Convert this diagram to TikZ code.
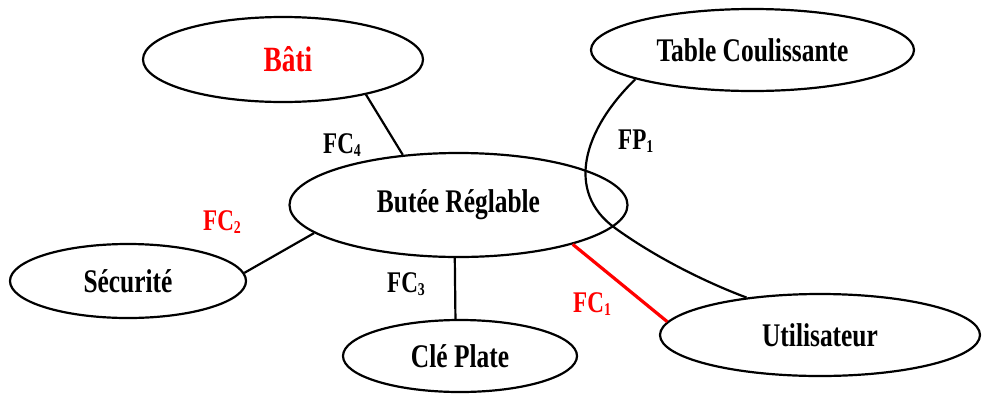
\documentclass[tikz,border=0pt]{standalone}
\usepackage{fontspec}
\setmainfont{Liberation Serif}
\usepackage{graphicx}
\usetikzlibrary{shapes.geometric}
\definecolor{fcred}{RGB}{255,0,0}
% condensed bold text, as in the function diagram
\newcommand\narrowtxt[1]{\scalebox{0.77}[1]{#1}}
\newcommand\fclabel[2]{\narrowtxt{#1\raisebox{-3pt}{\fontsize{18}{18}\selectfont #2}}}

\begin{document}
\begin{tikzpicture}[x=1pt,y=-1pt,
  bubble/.style={ellipse, draw, line width=2.2pt, inner sep=0pt,
    font=\fontsize{33}{36}\selectfont\bfseries},
  link/.style={line width=2.2pt},
  keylink/.style={line width=3.2pt, draw=fcred},
  fnlabel/.style={anchor=base west, inner sep=0pt,
    font=\fontsize{30}{32}\selectfont\bfseries}]

\fill[white] (0,0) rectangle (982,394);
\useasboundingbox (0,0) rectangle (982,394);

% elements of the environment
\node[bubble, minimum width=280pt, minimum height=85pt, text=fcred,
      font=\fontsize{35.5}{38}\selectfont\bfseries] (bati) at (283,59.5) {\hspace*{10pt}\narrowtxt{Bâti}};
\node[bubble, minimum width=338pt, minimum height=104pt] (butee) at (458.5,205) {\narrowtxt{Butée Réglable}};
\node[bubble, minimum width=236pt, minimum height=74pt] (secu) at (128,281) {\narrowtxt{Sécurité}};
\node[bubble, minimum width=234pt, minimum height=72pt] (cle) at (460,356) {\narrowtxt{Clé Plate}};
\node[bubble, minimum width=323pt, minimum height=82pt] (table) at (752.5,50) {\narrowtxt{Table Coulissante}};
\node[bubble, minimum width=320pt, minimum height=82pt] (user) at (820,335) {\narrowtxt{Utilisateur}};

% functions
\draw[link] (bati.-23.8) -- (butee.138.9);
\draw[link] (secu.4.9) -- (butee.-169.4);
\draw[link] (butee.-94) -- (cle.97.7);
\draw[keylink] (butee.-19.9) -- (user.175.1);
\draw[link] (table.-166.3) .. controls (583,130) and (565,192) .. (615,228)
                           .. controls (655,257) and (705,282) .. (user.153.1);

% function names
\node[fnlabel] (fc4) at (323,153) {\fclabel{FC}{4}};
\node[fnlabel, text=fcred] (fc2) at (203,230) {\fclabel{FC}{2}};
\node[fnlabel] (fc3) at (387,292) {\fclabel{FC}{3}};
\node[fnlabel, text=fcred] (fc1) at (573,312) {\fclabel{FC}{1}};
\node[fnlabel] (fp1) at (618,149) {\fclabel{FP}{1}};
\end{tikzpicture}
\end{document}
